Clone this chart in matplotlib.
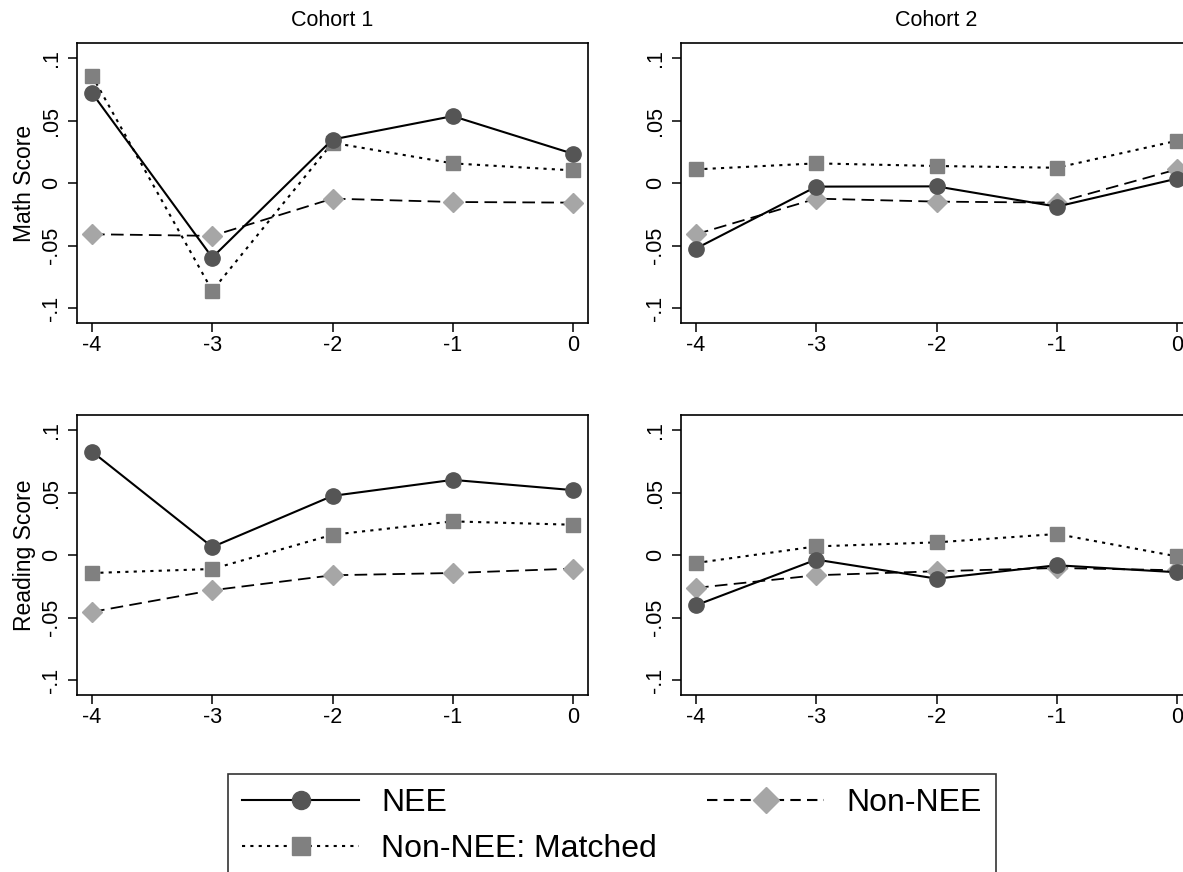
import matplotlib
matplotlib.use("Agg")
import matplotlib.pyplot as plt
from matplotlib.lines import Line2D

plt.rcParams['font.family'] = ['Liberation Sans', 'DejaVu Sans']

years = [-4, -3, -2, -1, 0]

# Math score, cohort 1 / cohort 2
math_c1_nee = [0.072, -0.0596, 0.0348, 0.0535, 0.0234]
math_c1_matched = [0.0859, -0.0862, 0.0322, 0.0157, 0.0101]
math_c1_nonnee = [-0.041, -0.0423, -0.0125, -0.0152, -0.0157]

math_c2_nee = [-0.0524, -0.0029, -0.0027, -0.0189, 0.0035]
math_c2_matched = [0.0109, 0.0157, 0.0136, 0.0122, 0.0338]
math_c2_nonnee = [-0.041, -0.0125, -0.0149, -0.0157, 0.0109]

# Reading score, cohort 1 / cohort 2
read_c1_nee = [0.0827, 0.0064, 0.0473, 0.0601, 0.0519]
read_c1_matched = [-0.0144, -0.0112, 0.0162, 0.0269, 0.0242]
read_c1_nonnee = [-0.0455, -0.0282, -0.0162, -0.0144, -0.0109]

read_c2_nee = [-0.0402, -0.0037, -0.0189, -0.0082, -0.0138]
read_c2_matched = [-0.0064, 0.0069, 0.0101, 0.0168, -0.0011]
read_c2_nonnee = [-0.0263, -0.0162, -0.013, -0.0104, -0.0122]

yticks = [-0.1, -0.05, 0, 0.05, 0.1]
ytick_labels = ['-.1', '-.05', '0', '.05', '.1']

c_nee = '#555555'
c_matched = '#808080'
c_nonnee = '#a6a6a6'

W, H = 1183, 872
fig = plt.figure(figsize=(W / 100, H / 100), dpi=100)

# panel boxes in pixels: left, top, right, bottom
boxes = {
    (0, 0): (77, 43, 588, 323),
    (0, 1): (681, 43, 1192, 323),
    (1, 0): (77, 415, 588, 695),
    (1, 1): (681, 415, 1192, 695),
}

panels = {
    (0, 0): (math_c1_nee, math_c1_matched, math_c1_nonnee),
    (0, 1): (math_c2_nee, math_c2_matched, math_c2_nonnee),
    (1, 0): (read_c1_nee, read_c1_matched, read_c1_nonnee),
    (1, 1): (read_c2_nee, read_c2_matched, read_c2_nonnee),
}

for key, (l, t, r, b) in boxes.items():
    ax = fig.add_axes([l / W, 1 - b / H, (r - l) / W, (b - t) / H])
    nee, matched, nonnee = panels[key]
    ax.plot(years, nonnee, color='black', linestyle=(0, (7, 3.5)), linewidth=1.3,
            marker='D', markersize=10.5, markerfacecolor=c_nonnee, markeredgecolor=c_nonnee, zorder=2)
    ax.plot(years, matched, color='black', linestyle=(0, (1.5, 2.5)), linewidth=1.5,
            marker='s', markersize=10.5, markerfacecolor=c_matched, markeredgecolor=c_matched, zorder=3)
    ax.plot(years, nee, color='black', linestyle='-', linewidth=1.5,
            marker='o', markersize=11, markerfacecolor=c_nee, markeredgecolor=c_nee, zorder=4)
    ax.set_xlim(-4.125, 0.125)
    ax.set_ylim(-0.112, 0.112)
    ax.set_xticks(years)
    ax.set_xticklabels([str(v) for v in years])
    ax.set_yticks(yticks)
    ax.set_yticklabels(ytick_labels, rotation=90, va='center')
    ax.tick_params(direction='out', length=6.5, width=1.1, labelsize=15.5, pad=4)
    ax.tick_params(axis='x', pad=2)
    for s in ax.spines.values():
        s.set_linewidth(1.2)
    if key[0] == 0:
        ax.set_title('Cohort %d' % (key[1] + 1), fontsize=15.5, pad=12)
    if key[1] == 0:
        ax.set_ylabel('Math Score' if key[0] == 0 else 'Reading Score', fontsize=16.5, labelpad=4)

h_nee = Line2D([], [], color='black', linestyle='-', linewidth=1.5, marker='o', markersize=13,
               markerfacecolor=c_nee, markeredgecolor=c_nee)
h_matched = Line2D([], [], color='black', linestyle=(0, (1.5, 2.5)), linewidth=1.5, marker='s', markersize=13,
                   markerfacecolor=c_matched, markeredgecolor=c_matched)
h_nonnee = Line2D([], [], color='black', linestyle=(0, (5, 3)), linewidth=1.5, marker='D', markersize=13,
                  markerfacecolor=c_nonnee, markeredgecolor=c_nonnee)

leg = fig.legend([h_nee, h_matched, h_nonnee], ['NEE', 'Non-NEE: Matched', 'Non-NEE'],
                 ncol=2, loc='upper left', mode='expand',
                 bbox_to_anchor=(228 / W, 0.0, (996 - 228) / W, 1 - 774 / H),
                 bbox_transform=fig.transFigure, fontsize=23, frameon=True, fancybox=False,
                 handlelength=3.65, handletextpad=0.7, borderaxespad=0, borderpad=0.45,
                 labelspacing=0.5, columnspacing=2.0)
leg.get_frame().set_edgecolor('black')
leg.get_frame().set_linewidth(1.2)

fig.savefig('out.png', dpi=100)
